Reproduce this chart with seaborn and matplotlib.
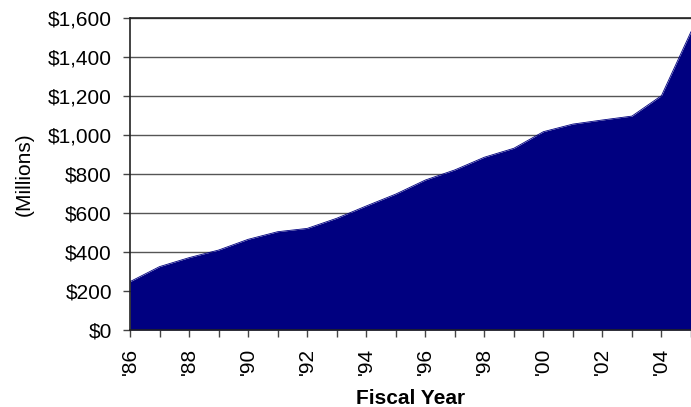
import matplotlib
matplotlib.use("Agg")
import matplotlib.pyplot as plt
import seaborn as sns
import pandas as pd
import numpy as np

years = ["'86", "'87", "'88", "'89", "'90", "'91", "'92", "'93", "'94", "'95",
         "'96", "'97", "'98", "'99", "'00", "'01", "'02", "'03", "'04", "'05"]
values = [248, 325, 371, 410, 465, 504, 521, 573, 636, 697,
          769, 821, 886, 932, 1017, 1056, 1077, 1097, 1202, 1530]
y_ticks = [0, 200, 400, 600, 800, 1000, 1200, 1400, 1600]
y_tick_labels = ["$0", "$200", "$400", "$600", "$800", "$1,000", "$1,200", "$1,400", "$1,600"]

sns.set_style("white")
plt.rcParams['font.family'] = ['Liberation Sans', 'DejaVu Sans']

df = pd.DataFrame({"year": years, "value": values, "idx": np.arange(len(years))})

fig = plt.figure(figsize=(6.91, 4.07), dpi=100)
W, H = 691, 407
ax = fig.add_axes([130 / W, (H - 330) / H, (691 - 130) / W, 312 / H])

ax.fill_between(df["idx"], df["value"], 0, color="#000080", linewidth=0, zorder=2)
sns.lineplot(data=df, x="idx", y="value", ax=ax, color="#000080", linewidth=0.6, zorder=3)

ax.set_ylim(0, 1600)
ax.set_xlim(0, (691 - 130) / 29.8)
ax.set_yticks(y_ticks)
ax.set_yticklabels(y_tick_labels, fontsize=15, color="black")
ax.set_xticks(df["idx"])
ax.set_xticklabels([y if i % 2 == 0 else "" for i, y in enumerate(years)],
                   rotation=90, fontsize=15, color="black")
ax.yaxis.grid(True, color="#555555", linewidth=1.0, zorder=1)
ax.set_axisbelow(True)
ax.tick_params(axis="y", direction="out", length=5, width=1, color="#444444",
               left=True, pad=8)
ax.tick_params(axis="x", direction="out", length=5, width=1, color="#444444",
               bottom=True, pad=8)
for s in ["top", "right"]:
    ax.spines[s].set_visible(False)
for s in ["left", "bottom"]:
    ax.spines[s].set_color("#222222")
    ax.spines[s].set_linewidth(1.2)
    ax.spines[s].set_zorder(4)
ax.axhline(1600, color="#222222", linewidth=1.2, zorder=4, clip_on=False)

ax.set_xlabel("Fiscal Year", fontsize=15, fontweight="bold", color="black")
ax.set_ylabel("(Millions)", fontsize=15, color="black")
ax.xaxis.set_label_coords(0.5, -(398 - 330) / 312, transform=ax.transAxes)
ax.yaxis.set_label_coords((24 - 130) / 561, (330 - 174) / 312, transform=ax.transAxes)
ax.xaxis.label.set_va("center")
ax.yaxis.label.set_va("center")

fig.savefig("out.png", dpi=100)
